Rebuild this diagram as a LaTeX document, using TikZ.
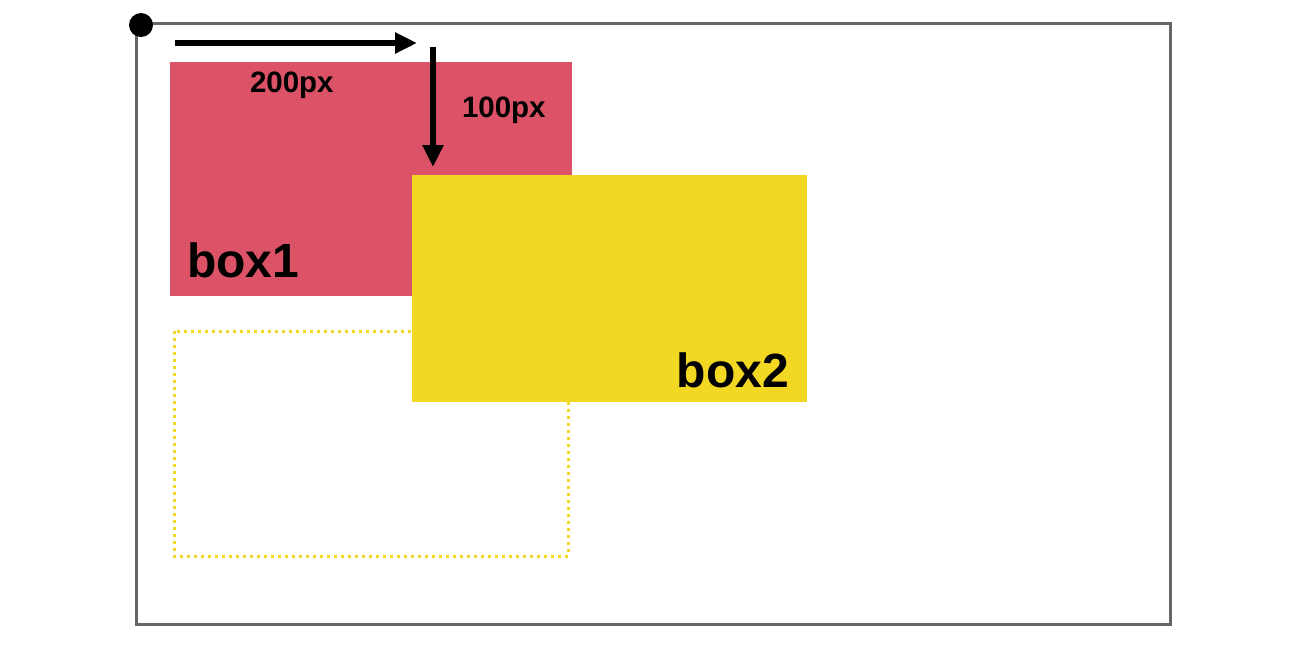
\documentclass[tikz,border=0pt]{standalone}
\usepackage{fontspec}
\setmainfont{Liberation Sans}
\usetikzlibrary{arrows.meta}
\definecolor{boxred}{HTML}{DC5266}
\definecolor{boxyellow}{HTML}{F2D822}
\definecolor{framegray}{HTML}{666666}
\tikzset{
  every node/.style={inner sep=0pt, outer sep=0pt},
  bigarrow/.style={line width=5.5pt, -{Triangle[length=22pt,width=20pt]}},
  smalllabel/.style={font=\bfseries\fontsize{29.5}{31}\selectfont, anchor=base west},
  biglabel/.style={font=\bfseries\fontsize{48}{50}\selectfont, anchor=base west},
}
\begin{document}
\begin{tikzpicture}[x=1pt,y=-1pt]
\useasboundingbox (0,0) rectangle (1312,654);
% frame
\draw[framegray, line width=3pt] (136,23) rectangle (1170,624);
% red box
\fill[boxred] (170,62) rectangle (572,296);
\node[biglabel] (b1) at (187,277) {box1};
% dotted box
\draw[boxyellow, line width=3pt, dash pattern=on 3pt off 4pt] (174,331) rectangle (568,556);
% yellow box
\fill[boxyellow] (412,175) rectangle (807,402);
\node[biglabel, anchor=base east] (b2) at (789,387) {box2};
% origin dot
\fill[black] (141,25) circle (12);
% arrows
\coordinate (hs) at (175,43);
\coordinate (he) at (417,43);
\coordinate (vs) at (433,47);
\coordinate (ve) at (433,167);
\draw[bigarrow] (hs) -- (he);
\draw[bigarrow] (vs) -- (ve);
\node[smalllabel] (l200) at (250,92) {200px};
\node[smalllabel] (l100) at (462,117) {100px};
\end{tikzpicture}
\end{document}
